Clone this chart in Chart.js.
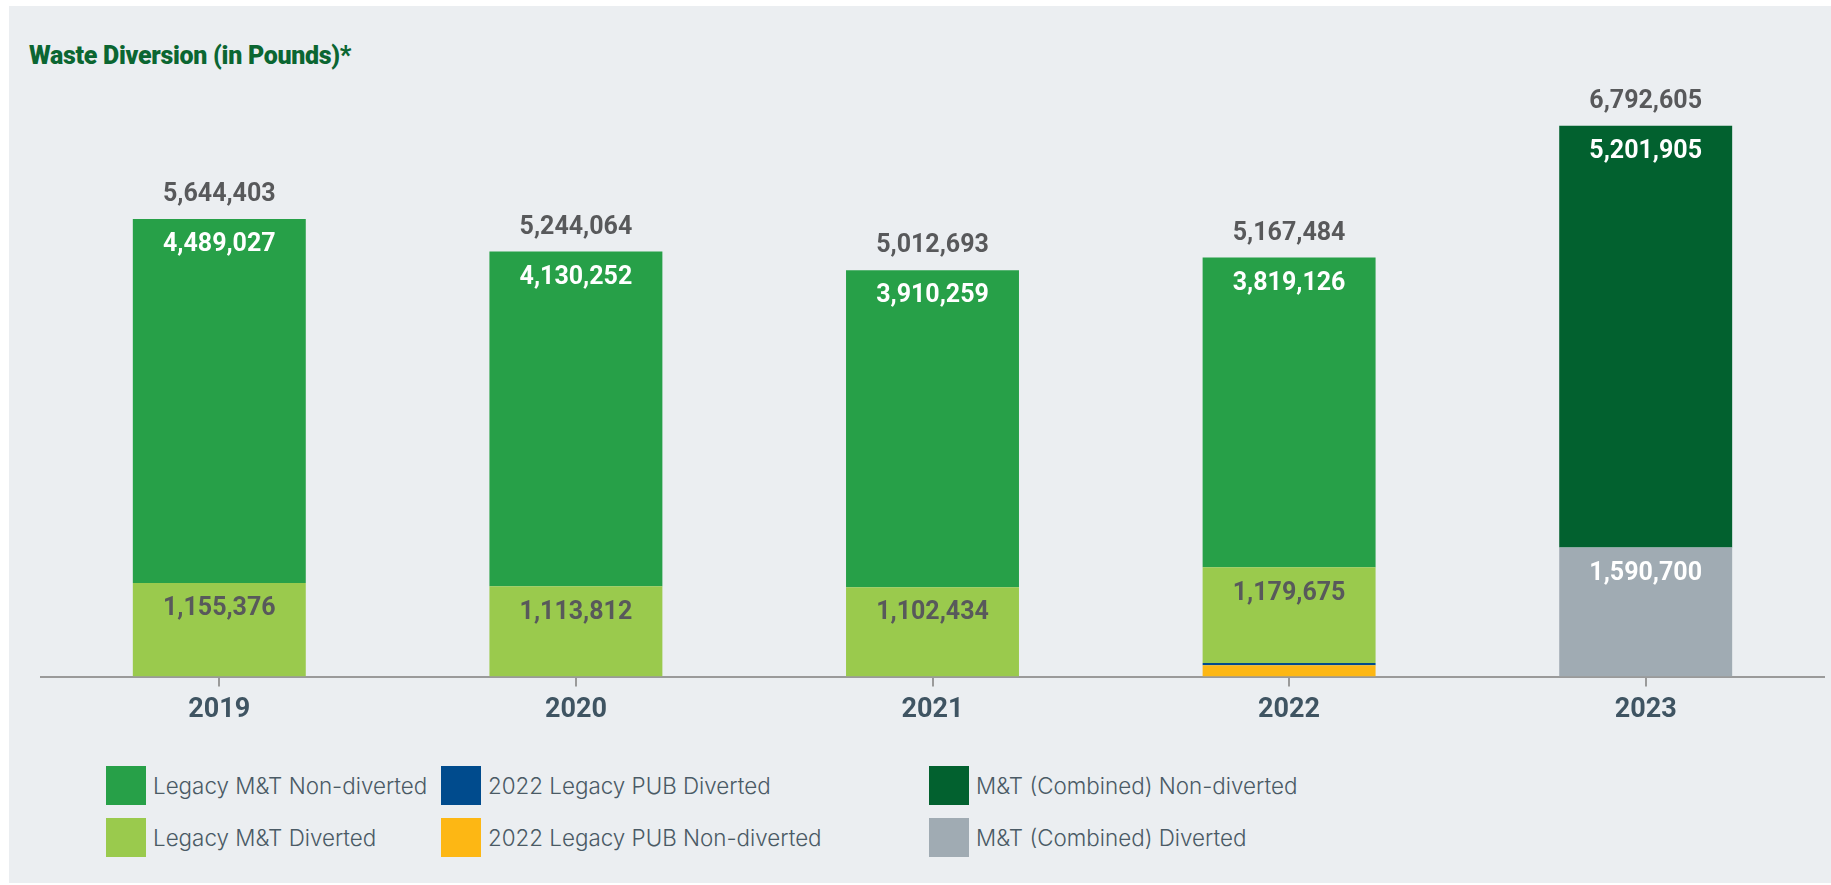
<!DOCTYPE html>
<html>
<head>
<meta charset="utf-8">
<script src="https://cdn.jsdelivr.net/npm/chart.js@4.4.0/dist/chart.umd.min.js"></script>
<style>
  body { margin: 0; background: #fff; width: 1831px; height: 885px; overflow: hidden; }
  #panel { position: absolute; left: 9px; top: 6px; width: 1822px; height: 877px; background: #EBEEF1; }
  #title { position: absolute; left: 29px; top: 41px; font-family: Roboto, sans-serif; font-weight: 900;
           font-size: 25px; color: #0B6632; letter-spacing: -0.3px; }
  #wrap { position: absolute; left: 0; top: 0; width: 1831px; height: 740px; }
  .leg { position: absolute; font-family: Inter, sans-serif; font-weight: 300; font-size: 22.4px; color: #4A5A65;
         display: flex; align-items: center; height: 39px; }
  .leg span.box { display: inline-block; width: 40px; height: 39px; margin-right: 7px; }
</style>
</head>
<body>
<div id="panel"></div>
<div id="title">Waste Diversion (in Pounds)*</div>
<div id="wrap"><canvas id="chart"></canvas></div>
<div id="legend"></div>
<script>
var years = ['2019', '2020', '2021', '2022', '2023'];

var pubNonDiverted = [0, 0, 0, 140000, 0];
var pubDiverted = [0, 0, 0, 28683, 0];
var legacyDiverted = [1155376, 1113812, 1102434, 1179675, 0];
var legacyNonDiverted = [4489027, 4130252, 3910259, 3819126, 0];
var combinedDiverted = [0, 0, 0, 0, 1590700];
var combinedNonDiverted = [0, 0, 0, 0, 5201905];
var totals = [5644403, 5244064, 5012693, 5167484, 6792605];

// bottom to top in the stack
var datasets = [
    { label: '2022 Legacy PUB Non-diverted', data: pubNonDiverted, backgroundColor: '#FDB714', valueColor: null },
    { label: '2022 Legacy PUB Diverted', data: pubDiverted, backgroundColor: '#004B8D', valueColor: null },
    { label: 'Legacy M&T Diverted', data: legacyDiverted, backgroundColor: '#9ACA4D', valueColor: '#58595B' },
    { label: 'Legacy M&T Non-diverted', data: legacyNonDiverted, backgroundColor: '#27A048', valueColor: '#ffffff' },
    { label: 'M&T (Combined) Diverted', data: combinedDiverted, backgroundColor: '#A0ABB3', valueColor: '#ffffff' },
    { label: 'M&T (Combined) Non-diverted', data: combinedNonDiverted, backgroundColor: '#02612F', valueColor: '#ffffff' }
];

var fmt = function(v) { return v.toLocaleString('en-US'); };

var valueLabels = {
    id: 'valueLabels',
    afterDatasetsDraw: function(chart) {
        var ctx = chart.ctx;
        ctx.save();
        ctx.font = 'bold 25px Roboto, sans-serif';
        ctx.textAlign = 'center';
        ctx.textBaseline = 'middle';
        var tops = [];
        chart.data.datasets.forEach(function(ds, i) {
            var meta = chart.getDatasetMeta(i);
            meta.data.forEach(function(bar, j) {
                if (!ds.data[j]) return;
                if (tops[j] === undefined || bar.y < tops[j].y) tops[j] = bar;
                if (ds.valueColor) {
                    ctx.fillStyle = ds.valueColor;
                    ctx.fillText(fmt(ds.data[j]), bar.x, bar.y + 26);
                }
            });
        });
        ctx.fillStyle = '#58595B';
        tops.forEach(function(bar, j) {
            ctx.fillText(fmt(totals[j]), bar.x, bar.y - 24);
        });
        ctx.restore();
    }
};

var ctx = document.getElementById('chart');
var chart = new Chart(ctx, {
    type: 'bar',
    data: { labels: years, datasets: datasets },
    options: {
        responsive: true,
        maintainAspectRatio: false,
        animation: false,
        categoryPercentage: 1,
        barPercentage: 0.485,
        layout: { padding: { left: 41, right: 7, top: 109, bottom: 7 } },
        plugins: { legend: { display: false }, tooltip: { enabled: false } },
        scales: {
            x: {
                stacked: true,
                grid: { offset: false, drawOnChartArea: false, drawTicks: true, tickLength: 10, color: '#9A9A9A', lineWidth: 2 },
                border: { color: '#9A9A9A', width: 2 },
                ticks: { color: '#3F5462', padding: 7, font: { family: 'Roboto, sans-serif', size: 27, weight: 'bold' } }
            },
            y: { stacked: true, display: false, min: 0, max: 7000000 }
        }
    },
    plugins: [valueLabels]
});

// html legend, three columns of two
var legendCols = [
    { x: 106, items: ['Legacy M&T Non-diverted', 'Legacy M&T Diverted'] },
    { x: 441, items: ['2022 Legacy PUB Diverted', '2022 Legacy PUB Non-diverted'] },
    { x: 929, items: ['M&T (Combined) Non-diverted', 'M&T (Combined) Diverted'] }
];
var rowsY = [766, 818];
var legend = document.getElementById('legend');
legendCols.forEach(function(col) {
    col.items.forEach(function(name, r) {
        var ds = datasets.filter(function(d) { return d.label === name; })[0];
        var el = document.createElement('div');
        el.className = 'leg';
        el.style.left = col.x + 'px';
        el.style.top = rowsY[r] + 'px';
        var box = document.createElement('span');
        box.className = 'box';
        box.style.background = ds.backgroundColor;
        el.appendChild(box);
        el.appendChild(document.createTextNode(ds.label));
        legend.appendChild(el);
    });
});
</script>
</body>
</html>
